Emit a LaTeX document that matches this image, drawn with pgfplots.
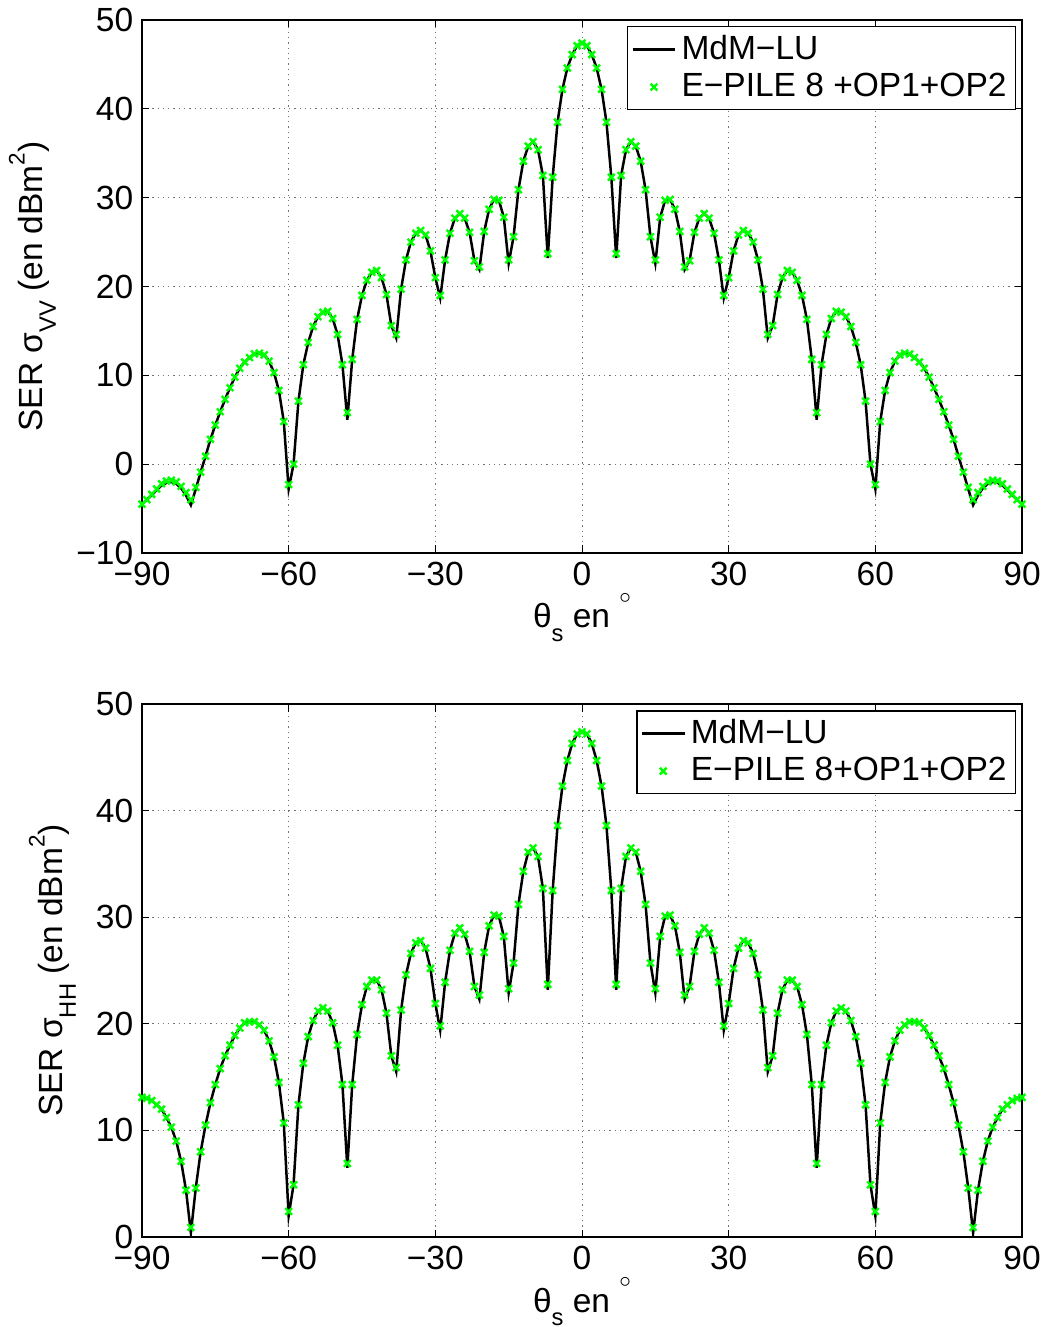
\documentclass[border=0pt]{standalone}
\usepackage{fontspec}
\setmainfont{Liberation Sans}
\usepackage{pgfplots}
\usepackage{pgfplotstable}
\pgfplotsset{compat=1.18}

\pgfplotstableread{
x vm vl hm hl
-90 -4.5 -4.5 13.1 13.1
-89 -4.0 -4.0 13.0 13.0
-88 -3.4 -3.5 12.8 12.8
-87 -2.8 -2.9 12.4 12.4
-86 -2.2 -2.4 12.0 12.0
-85 -1.9 -2.1 11.2 11.2
-84 -1.8 -2.0 10.3 10.3
-83 -2.0 -2.2 9.0 9.0
-82 -2.5 -2.7 7.1 7.1
-81 -3.2 -3.5 4.4 4.4
-80 -4.0 -4.6 0.9 0.4
-79 -2.6 -2.8 4.6 4.6
-78 -0.9 -0.9 8.0 8.0
-77 0.9 0.9 10.5 10.5
-76 2.8 2.8 12.6 12.6
-75 4.4 4.4 14.3 14.3
-74 5.9 5.9 15.8 15.8
-73 7.3 7.3 17.0 17.0
-72 8.6 8.6 18.0 18.0
-71 9.8 9.8 18.9 18.9
-70 10.8 10.8 19.6 19.6
-69 11.5 11.5 20.1 20.1
-68 12.0 12.0 20.2 20.2
-67 12.4 12.4 20.2 20.2
-66 12.5 12.5 19.9 19.9
-65 12.3 12.3 19.4 19.4
-64 11.6 11.6 18.4 18.4
-63 10.3 10.3 16.9 16.9
-62 8.3 8.3 14.5 14.5
-61 4.8 4.8 10.7 10.7
-60 -2.3 -2.8 2.4 2.0
-59 0.0 0.0 4.9 4.9
-58 7.1 7.1 12.4 12.4
-57 11.2 11.2 16.3 16.3
-56 13.7 13.7 18.8 18.8
-55 15.5 15.5 20.3 20.3
-54 16.6 16.6 21.2 21.2
-53 17.1 17.1 21.5 21.5
-52 17.2 17.2 21.2 21.2
-51 16.4 16.4 20.1 20.1
-50 14.6 14.6 18.0 18.0
-49 11.2 11.2 14.3 14.3
-48 5.8 5.0 6.9 6.5
-47 11.8 11.8 14.3 14.3
-46 16.3 16.3 19.0 19.0
-45 19.0 19.0 21.8 21.8
-44 20.7 20.7 23.5 23.5
-43 21.6 21.6 24.1 24.1
-42 21.8 21.8 24.1 24.1
-41 21.0 21.0 23.2 23.2
-40 19.1 19.1 21.0 21.0
-39 15.6 15.6 17.0 17.0
-38 14.6 14.2 15.9 15.5
-37 19.7 19.7 21.3 21.3
-36 23.0 23.0 24.6 24.6
-35 25.0 25.0 26.6 26.6
-34 26.0 26.0 27.6 27.6
-33 26.3 26.3 27.8 27.8
-32 25.8 25.8 27.1 27.1
-31 24.0 24.0 25.2 25.2
-30 21.0 21.0 21.9 21.9
-29 19.0 18.7 19.8 19.4
-28 23.0 23.0 23.9 23.9
-27 26.0 26.0 26.9 26.9
-26 27.7 27.7 28.5 28.5
-25 28.2 28.2 29.0 29.0
-24 27.7 27.7 28.4 28.4
-23 26.1 26.1 26.8 26.8
-22 22.9 22.9 23.5 23.5
-21 22.2 21.9 22.7 22.3
-20 26.2 26.2 26.7 26.7
-19 28.7 28.7 29.2 29.2
-18 29.8 29.8 30.2 30.2
-17 29.7 29.7 30.1 30.1
-16 27.8 27.8 28.2 28.2
-15 23.0 22.6 23.3 22.9
-14 25.6 25.6 25.7 25.7
-13 30.9 30.9 31.2 31.2
-12 34.1 34.1 34.3 34.3
-11 35.8 35.8 36.1 36.1
-10 36.3 36.3 36.5 36.5
-9 35.4 35.4 35.7 35.7
-8 32.5 32.5 32.7 32.7
-7 23.7 23.2 23.7 23.2
-6 32.3 32.3 32.5 32.5
-5 38.5 38.5 38.6 38.6
-4 42.2 42.2 42.3 42.3
-3 44.6 44.6 44.7 44.7
-2 46.1 46.1 46.3 46.3
-1 47.1 47.1 47.2 47.2
0 47.4 47.4 47.4 47.4
1 47.1 47.1 47.2 47.2
2 46.1 46.1 46.3 46.3
3 44.6 44.6 44.7 44.7
4 42.2 42.2 42.3 42.3
5 38.5 38.5 38.6 38.6
6 32.3 32.3 32.5 32.5
7 23.7 23.2 23.7 23.2
8 32.5 32.5 32.7 32.7
9 35.4 35.4 35.7 35.7
10 36.3 36.3 36.5 36.5
11 35.8 35.8 36.1 36.1
12 34.1 34.1 34.3 34.3
13 30.9 30.9 31.2 31.2
14 25.6 25.6 25.7 25.7
15 23.0 22.6 23.3 22.9
16 27.8 27.8 28.2 28.2
17 29.7 29.7 30.1 30.1
18 29.8 29.8 30.2 30.2
19 28.7 28.7 29.2 29.2
20 26.2 26.2 26.7 26.7
21 22.2 21.9 22.7 22.3
22 22.9 22.9 23.5 23.5
23 26.1 26.1 26.8 26.8
24 27.7 27.7 28.4 28.4
25 28.2 28.2 29.0 29.0
26 27.7 27.7 28.5 28.5
27 26.0 26.0 26.9 26.9
28 23.0 23.0 23.9 23.9
29 19.0 18.7 19.8 19.4
30 21.0 21.0 21.9 21.9
31 24.0 24.0 25.2 25.2
32 25.8 25.8 27.1 27.1
33 26.3 26.3 27.8 27.8
34 26.0 26.0 27.6 27.6
35 25.0 25.0 26.6 26.6
36 23.0 23.0 24.6 24.6
37 19.7 19.7 21.3 21.3
38 14.6 14.2 15.9 15.5
39 15.6 15.6 17.0 17.0
40 19.1 19.1 21.0 21.0
41 21.0 21.0 23.2 23.2
42 21.8 21.8 24.1 24.1
43 21.6 21.6 24.1 24.1
44 20.7 20.7 23.5 23.5
45 19.0 19.0 21.8 21.8
46 16.3 16.3 19.0 19.0
47 11.8 11.8 14.3 14.3
48 5.8 5.0 6.9 6.5
49 11.2 11.2 14.3 14.3
50 14.6 14.6 18.0 18.0
51 16.4 16.4 20.1 20.1
52 17.2 17.2 21.2 21.2
53 17.1 17.1 21.5 21.5
54 16.6 16.6 21.2 21.2
55 15.5 15.5 20.3 20.3
56 13.7 13.7 18.8 18.8
57 11.2 11.2 16.3 16.3
58 7.1 7.1 12.4 12.4
59 0.0 0.0 4.9 4.9
60 -2.3 -2.8 2.4 2.0
61 4.8 4.8 10.7 10.7
62 8.3 8.3 14.5 14.5
63 10.3 10.3 16.9 16.9
64 11.6 11.6 18.4 18.4
65 12.3 12.3 19.4 19.4
66 12.5 12.5 19.9 19.9
67 12.4 12.4 20.2 20.2
68 12.0 12.0 20.2 20.2
69 11.5 11.5 20.1 20.1
70 10.8 10.8 19.6 19.6
71 9.8 9.8 18.9 18.9
72 8.6 8.6 18.0 18.0
73 7.3 7.3 17.0 17.0
74 5.9 5.9 15.8 15.8
75 4.4 4.4 14.3 14.3
76 2.8 2.8 12.6 12.6
77 0.9 0.9 10.5 10.5
78 -0.9 -0.9 8.0 8.0
79 -2.6 -2.8 4.6 4.6
80 -4.0 -4.6 0.9 0.4
81 -3.2 -3.5 4.4 4.4
82 -2.5 -2.7 7.1 7.1
83 -2.0 -2.2 9.0 9.0
84 -1.8 -2.0 10.3 10.3
85 -1.9 -2.1 11.2 11.2
86 -2.2 -2.4 12.0 12.0
87 -2.8 -2.9 12.4 12.4
88 -3.4 -3.5 12.8 12.8
89 -4.0 -4.0 13.0 13.0
90 -4.5 -4.5 13.1 13.1
}\data

\definecolor{mgreen}{rgb}{0,1,0}
\newcommand{\fs}{\fontsize{13.4}{15}\selectfont}
\newcommand{\msub}[1]{\raisebox{-5.5pt}{\fontsize{9.5}{10}\selectfont #1}}
\newcommand{\msup}[1]{\raisebox{7pt}{\fontsize{9}{10}\selectfont #1}}

\pgfplotsset{
  matlab/.style={
    scale only axis, width=352pt, height=213.2pt,
    xmin=-90, xmax=90,
    xtick={-90,-60,-30,0,30,60,90},
    xticklabels={−90,−60,−30,0,30,60,90},
    grid=major,
    grid style={black!55, line width=0.4pt, dash pattern=on 0.5pt off 1.6pt},
    tick align=inside, major tick length=3pt,
    tick style={black, line width=0.4pt},
    axis line style={line width=0.7pt},
    ticklabel style={font=\fs},
    label style={font=\fs},
    xlabel={θ\msub{s} en \raisebox{9.6pt}{\fontsize{9}{10}\selectfont$\circ$}},
    xlabel style={at={(axis description cs:0.5,0)}, anchor=base, yshift=-30pt},
    legend cell align=left,
    legend style={at={(1,1)}, anchor=north east, xshift=-2.4pt, yshift=-2.4pt,
      font=\fs, draw=black, line width=0.6pt, inner sep=1.5pt, row sep=0pt},
  },
  lineplot/.style={black, line width=1pt, mark=none},
  markplot/.style={only marks, mark=x, mark size=1.9pt, mgreen, mark options={line width=0.95pt}},
}

\begin{document}
\begin{tikzpicture}
\useasboundingbox (0,0) rectangle (418pt,530.8pt);
\begin{axis}[matlab, at={(56.8pt,309.6pt)}, anchor=south west,
  ymin=-10, ymax=50, ytick={-10,0,10,20,30,40,50},
  yticklabels={−10,0,10,20,30,40,50},
  ylabel={SER σ\msub{VV} (en dBm\msup{2})},
  ylabel style={at={(axis description cs:-0.1136,0.5)}, anchor=base, rotate=0},
]
\addplot[lineplot] table[x=x, y=vl] {\data};
\addlegendentry{MdM−LU}
\addplot[markplot] table[x=x, y=vm] {\data};
\addlegendentry{E−PILE 8 +OP1+OP2}
\end{axis}
\begin{axis}[matlab, at={(56.8pt,36pt)}, anchor=south west,
  ymin=0, ymax=50, ytick={0,10,20,30,40,50},
  yticklabels={0,10,20,30,40,50},
  ylabel={SER σ\msub{HH} (en dBm\msup{2})},
  ylabel style={at={(axis description cs:-0.0909,0.5)}, anchor=base, rotate=0},
]
\addplot[lineplot] table[x=x, y=hl] {\data};
\addlegendentry{MdM−LU}
\addplot[markplot] table[x=x, y=hm] {\data};
\addlegendentry{E−PILE 8+OP1+OP2}
\end{axis}
\end{tikzpicture}
\end{document}
